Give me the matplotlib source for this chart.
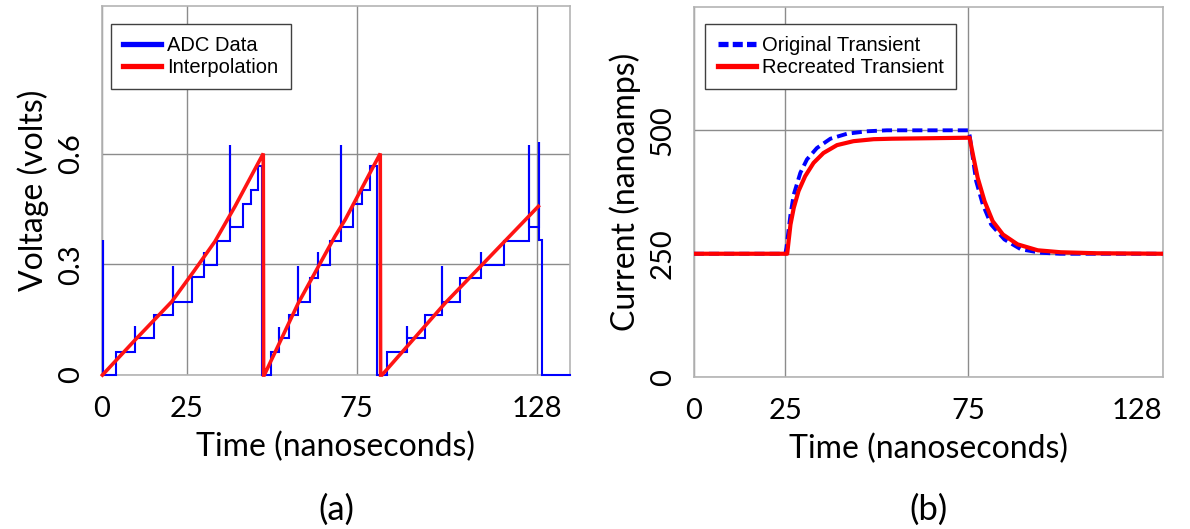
import matplotlib
matplotlib.use("Agg")
import matplotlib.pyplot as plt
from matplotlib.lines import Line2D

# ---- data (a): ADC steps ----
# each step: start time, level held afterwards, overshoot spike at the edge (None = no spike)
adc_edges = [0.0, 0.4, 4.1, 9.8, 15.4, 20.9, 26.5, 30.2, 33.8, 37.7, 41.4, 43.9, 45.9, 47.2,
             49.8, 52.1, 55.1, 57.8, 61.1, 63.5, 67.1, 70.4, 74.0, 76.5, 78.9, 80.9,
             83.8, 89.7, 95.1, 100.2, 105.4, 111.6, 118.3, 125.5, 128.7, 129.4]
adc_levels = [0.0, 0.0, 0.063, 0.100, 0.163, 0.199, 0.265, 0.299, 0.362, 0.401, 0.462, 0.500, 0.567, 0.0,
              0.063, 0.100, 0.163, 0.199, 0.262, 0.299, 0.362, 0.401, 0.464, 0.500, 0.567, 0.0,
              0.063, 0.100, 0.163, 0.199, 0.262, 0.299, 0.362, 0.401, 0.367, 0.0]
adc_spikes = [None, 0.367, None, 0.133, None, 0.296, None, 0.332, None, 0.624, None, None, None, None,
              None, 0.131, None, 0.296, None, 0.332, None, 0.624, None, None, None, None,
              None, 0.133, None, 0.296, None, 0.332, None, 0.624, 0.630, None]
adc_end = 137.7

# interpolation: three ramps, each dropping back to zero
interp_t = [0.2, 10.0, 20.6, 27.0, 33.3, 39.2, 47.5, 47.6,
            47.8, 57.8, 68.6, 71.6, 81.9, 82.0,
            82.4, 101.0, 128.4]
interp_v = [0.0, 0.097, 0.199, 0.280, 0.362, 0.457, 0.600, 0.0,
            0.0, 0.195, 0.376, 0.421, 0.600, 0.0,
            0.0, 0.195, 0.457]

# ---- data (b): transient current ----
orig_t = [0, 25.0, 25.3, 26.4, 27.3, 29.1, 30.9, 33.6, 37.3, 41.8, 47.2, 52.7, 75.0,
          75.3, 77.1, 78.9, 81.2, 84.8, 89.3, 94.8, 100, 128]
orig_v = [250, 250, 262, 329, 370, 414, 441, 464, 483, 493, 498, 500, 500,
          490, 397, 350, 309, 279, 259, 252, 250, 250]
rec_t = [0, 25.5, 26.4, 27.3, 28.6, 30.4, 32.7, 35.4, 39.1, 43.6, 49.1, 54.1, 75.3,
         76.2, 77.5, 79.4, 81.6, 84.4, 88.4, 93.9, 100.2, 110, 128]
rec_v = [250, 250, 309, 343, 377, 407, 434, 454, 470, 478, 482, 483, 485,
         451, 404, 356, 316, 289, 269, 257, 253, 251, 250]

x_ticks = [0, 25, 75, 128]

plt.rcParams['font.family'] = ['Lato', 'DejaVu Sans']
legend_font = {'family': 'Liberation Sans', 'size': 14.5}
grid_col = '#8c8c8c'
frame_col = '#b4b4b4'

fig = plt.figure(figsize=(11.9, 5.29), dpi=100)
ax1 = fig.add_axes([0.0855, 0.291, 0.3935, 0.698])
ax2 = fig.add_axes([0.583, 0.287, 0.394, 0.700])


def style_axes(ax, yticks, ylabels, ylabel):
    ax.set_xticks(x_ticks)
    ax.set_yticks(yticks)
    ax.set_yticklabels(ylabels, rotation=90, va='center')
    ax.tick_params(length=0, labelsize=21)
    ax.tick_params(axis='y', pad=13)
    ax.tick_params(axis='x', pad=15)
    ax.grid(True, color=grid_col, lw=1)
    ax.set_axisbelow(True)
    for s in ax.spines.values():
        s.set_color(frame_col)
        s.set_linewidth(1.2)
    ax.set_xlabel('Time (nanoseconds)', fontsize=23, labelpad=7)
    ax.set_ylabel(ylabel, fontsize=23, labelpad=6)


# (a)
xs, ys = [], []
for i, (t0, lev, sp) in enumerate(zip(adc_edges, adc_levels, adc_spikes)):
    t1 = adc_edges[i + 1] if i + 1 < len(adc_edges) else adc_end
    if sp is not None:
        xs += [t0, t0]
        ys += [ys[-1] if ys else 0.0, sp]
    xs += [t0, t1]
    ys += [lev, lev]
ax1.plot(xs, ys, color='#0000ff', lw=1.5, solid_joinstyle='miter', clip_on=False, zorder=3)
ax1.plot(interp_t, interp_v, color='#ff1414', lw=2.6, solid_joinstyle='miter', clip_on=False, zorder=3)
ax1.set_xlim(0, adc_end)
ax1.set_ylim(0, 1.0)
style_axes(ax1, [0, 0.3, 0.6], ['0', '0.3', '0.6'], 'Voltage (volts)')
h1 = [Line2D([], [], color='#0000ff', lw=3.8), Line2D([], [], color='#ff0000', lw=3.8)]
ax1.legend(h1, ['ADC Data', 'Interpolation'], loc='upper left', bbox_to_anchor=(0.02, 0.95),
           borderaxespad=0, prop=legend_font, fancybox=False, framealpha=1, edgecolor='#404040',
           handlelength=1.9, handletextpad=0.3, labelspacing=0.15, borderpad=0.6)

# (b)
ax2.plot(orig_t, orig_v, color='#0000ff', lw=2.8, ls=(0, (2.6, 1.3)), zorder=3)
ax2.plot(rec_t, rec_v, color='#ff0000', lw=3.0, zorder=3)
ax2.set_xlim(0, 128)
ax2.set_ylim(0, 750)
style_axes(ax2, [0, 250, 500], ['0', '250', '500'], 'Current (nanoamps)')
ax2.get_xticklabels()[-1].set_ha('right')
h2 = [Line2D([], [], color='#0000ff', lw=3.8, ls=(0, (1.9, 0.8))), Line2D([], [], color='#ff0000', lw=3.8)]
ax2.legend(h2, ['Original Transient', 'Recreated Transient'], loc='upper left', bbox_to_anchor=(0.025, 0.954),
           borderaxespad=0, prop=legend_font, fancybox=False, framealpha=1, edgecolor='#404040',
           handlelength=1.9, handletextpad=0.3, labelspacing=0.15, borderpad=0.6)

fig.text(0.283, 0.018, '(a)', fontsize=25, ha='center')
fig.text(0.78, 0.018, '(b)', fontsize=25, ha='center')

fig.savefig('out.png', dpi=100)
